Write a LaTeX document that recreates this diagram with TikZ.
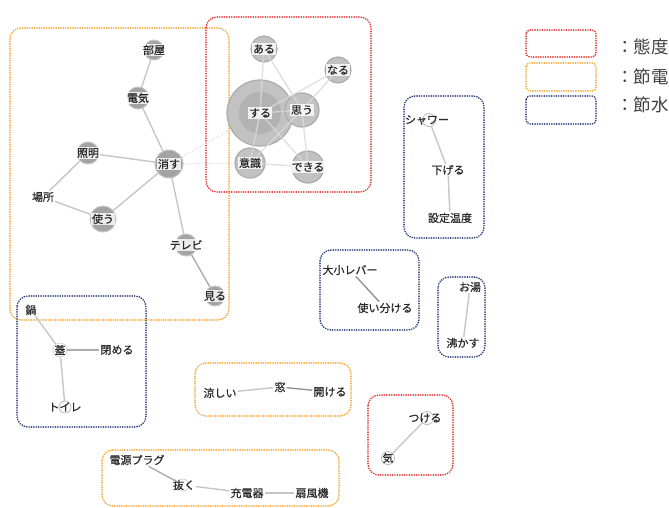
\documentclass[tikz,border=0pt]{standalone}
\usepackage{fontspec}
\setmainfont{Noto Sans CJK JP}
\newfontfamily\jpb[FakeBold=0.6]{Noto Sans CJK JP}
\definecolor{cred}{HTML}{E03A3A}
\definecolor{corg}{HTML}{F2AA3C}
\definecolor{cblu}{HTML}{34467E}
\definecolor{ctxt}{HTML}{2A2A2A}
\begin{document}
\begin{tikzpicture}[x=1pt,y=-1pt,
  box/.style={line width=1.9pt, dash pattern=on 0pt off 2.4pt, line cap=round, rounded corners=11pt},
  lab/.style={font=\jpb\fontsize{11}{12}\selectfont, inner sep=1pt, text=ctxt},
  wlab/.style={lab, fill=white, fill opacity=0.8, text opacity=1},
  leg/.style={font=\fontsize{17.5}{18}\selectfont, anchor=west, text=ctxt!90, inner sep=0pt},
  bubo/.style={circle, minimum size=#1, inner sep=0pt, fill=gray!72, draw=gray!45, line width=1pt},
  bubr/.style={circle, minimum size=#1, inner sep=0pt, fill=gray!48, draw=gray!65, line width=1.2pt},
  ring/.style={circle, minimum size=#1, inner sep=0pt, draw=gray!55, line width=0.8pt},
  ln/.style={draw=gray!45, line width=1.4pt},
  rl/.style={draw=gray!30, line width=1.4pt, opacity=0.8},
  dk/.style={draw=gray!85, line width=1.4pt},
  md/.style={draw=gray!65, line width=1.4pt},
  dt/.style={draw=gray!35, line width=1pt, dotted}
]
\useasboundingbox (0,0) rectangle (669,507);

% ---------- boxes ----------
\draw[box, draw=corg] (10,28) rectangle (229,320);
\draw[box, draw=cred] (206,17) rectangle (371,192);
\draw[box, draw=cblu] (404,96) rectangle (484,238);
\draw[box, draw=cblu] (17,296) rectangle (146,427);
\draw[box, draw=cblu] (320,250) rectangle (419,330);
\draw[box, draw=cblu] (438,277) rectangle (485,357);
\draw[box, draw=corg] (195,363) rectangle (351,416);
\draw[box, draw=cred] (368,395) rectangle (453,475);
\draw[box, draw=corg] (102,450) rectangle (339,506);

% ---------- legend ----------
\draw[box, draw=cred, rounded corners=4pt] (526,30) rectangle (596,57);
\draw[box, draw=corg, rounded corners=4pt] (526,63) rectangle (596,91);
\draw[box, draw=cblu, rounded corners=4pt] (526,96) rectangle (596,124);
\node[leg] (l1) at (616,47) {：態度};
\node[leg] (l2) at (616,77) {：節電};
\node[leg] (l3) at (616,105) {：節水};

% ---------- red cluster ----------
\node[bubr=66] (cSuru) at (260,113) {};
\node[circle, minimum size=42, inner sep=0pt, fill=gray!60] (cSuruIn) at (260,113) {};
\node[bubr=26] (cAru) at (264,49) {};
\node[bubr=26] (cNaru) at (338,70) {};
\node[bubr=34] (cOmou) at (302,110) {};
\node[bubr=30] (cIshiki) at (250,163) {};
\node[bubr=32] (cDekiru) at (308,167) {};
\draw[rl] (cAru.center) -- (cSuru.center);
\draw[rl] (cAru.center) -- (cOmou.center);
\draw[rl] (cNaru.center) -- (cOmou.center);
\draw[rl] (cNaru.center) -- (cSuru.center);
\draw[rl] (cSuru.center) -- (cOmou.center);
\draw[rl] (cSuru.center) -- (cIshiki.center);
\draw[rl] (cSuru.center) -- (cDekiru.center);
\draw[rl] (cOmou.center) -- (cDekiru.center);
\draw[rl] (cOmou.center) -- (cIshiki.center);
\draw[rl] (cIshiki.center) -- (cDekiru.center);
\node[wlab] (suru) at (260,113) {する};
\node[wlab] (aru) at (264,49) {ある};
\node[wlab] (naru) at (338,70) {なる};
\node[wlab] (omou) at (302,110) {思う};
\node[wlab] (ishiki) at (250,163) {意識};
\node[wlab] (dekiru) at (308,167) {できる};

% ---------- orange big cluster ----------
\node[bubo=20] (cHeya) at (154,50) {};
\node[bubo=22] (cDenki) at (138,98) {};
\node[bubo=28] (cKesu) at (169,164) {};
\node[bubo=22] (cShomei) at (88,153) {};
\node[bubo=26] (cTsukau) at (103,219) {};
\node[bubo=22] (cTv) at (186,245) {};
\node[bubo=20] (cMiru) at (215,296) {};
\node[lab] (basho) at (43,197) {場所};
\draw[ln] (cHeya) -- (cDenki);
\draw[ln] (cDenki) -- (cKesu);
\draw[ln] (cShomei) -- (cKesu);
\draw[ln] (cShomei) -- (basho);
\draw[ln] (basho) -- (cTsukau);
\draw[ln] (cTsukau) -- (cKesu);
\draw[ln] (cKesu) -- (cTv);
\draw[md] (cTv) -- (cMiru);
\draw[dt] (cKesu) -- (cSuru);
\draw[dt] (cKesu) -- (cIshiki);
\node[wlab] (heya) at (154,50) {部屋};
\node[wlab] (denki) at (138,98) {電気};
\node[wlab] (kesu) at (169,164) {消す};
\node[wlab] (shomei) at (88,153) {照明};
\node[wlab] (tsukau) at (103,219) {使う};
\node[wlab] (tv) at (186,245) {テレビ};
\node[wlab] (miru) at (215,296) {見る};

% ---------- shower ----------
\node[ring=13, fill=white] (cShower) at (429,120) {};
\node[lab] (shower) at (427,120) {シャワー};
\node[lab] (sageru) at (448,170) {下げる};
\node[lab] (ondo) at (450,218) {設定温度};
\draw[ln] (cShower) -- (sageru);
\draw[ln] (sageru) -- (ondo);

% ---------- nabe ----------
\node[lab] (nabe) at (31,310) {鍋};
\node[ring=14, draw=gray!35] (cFuta) at (60,350) {};
\node[lab] (futa) at (60,350) {蓋};
\node[lab] (shimeru) at (117,350) {閉める};
\node[ring=12] (cToilet) at (65,407) {};
\node[lab] (toilet) at (65,407) {トイレ};
\draw[ln] (nabe) -- (cFuta);
\draw[md] (cFuta) -- (shimeru);
\draw[ln] (cFuta) -- (toilet);

% ---------- lever ----------
\node[lab] (lever) at (350,270) {大小レバー};
\node[lab] (tsukaiwake) at (385,308) {使い分ける};
\draw[dk] (lever) -- (tsukaiwake);
\node[lab] (oyu) at (470,287) {お湯};
\node[lab] (wakasu) at (463,343) {沸かす};
\draw[ln] (oyu) -- (wakasu);

% ---------- window ----------
\node[lab] (suzushii) at (220,393) {涼しい};
\node[lab] (mado) at (280,387) {窓};
\node[lab] (akeru) at (330,392) {開ける};
\draw[ln] (suzushii) -- (mado);
\draw[dk] (mado) -- (akeru);

% ---------- ki ----------
\node[ring=13] (cTsukeru) at (427,418) {};
\node[lab] (tsukeru) at (425,418) {つける};
\node[ring=13] (cKi) at (388,458) {};
\node[lab] (ki) at (388,458) {気};
\draw[ln] (cTsukeru) -- (cKi);

% ---------- plug ----------
\node[lab] (plug) at (137,460) {電源プラグ};
\node[ring=12, draw=gray!35] (cNuku) at (183,485) {};
\node[lab] (nuku) at (184,485) {抜く};
\node[lab] (juden) at (247,493) {充電器};
\node[lab] (senpuki) at (312,493) {扇風機};
\draw[md] (plug) -- (cNuku);
\draw[ln] (nuku) -- (juden);
\draw[ln] (juden) -- (senpuki);
\end{tikzpicture}
\end{document}
